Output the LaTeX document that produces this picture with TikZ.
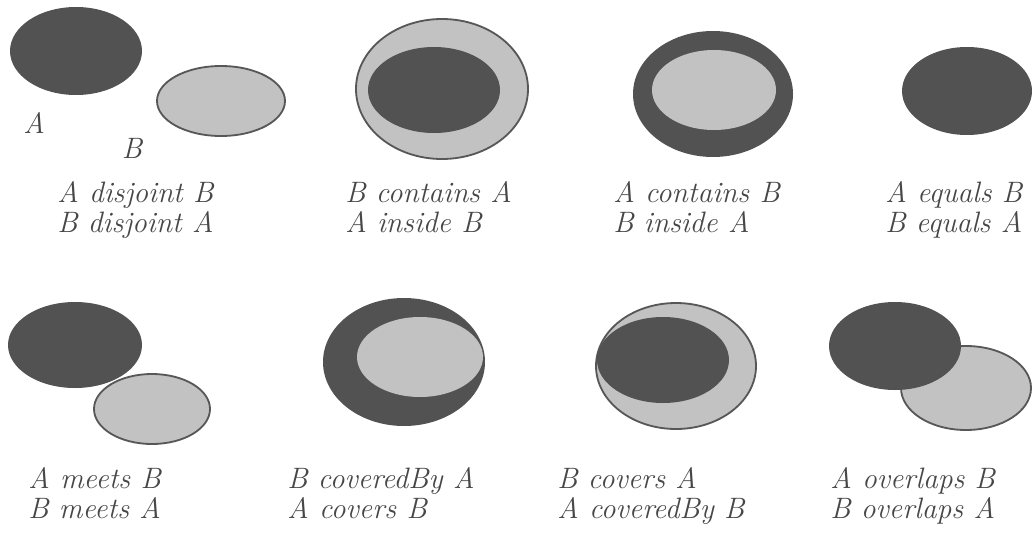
\documentclass[tikz,border=0pt]{standalone}
\usepackage{tikz}
\usetikzlibrary{calc,positioning}
\tikzset{
  regA/.style={fill=black!68},
  regB/.style={fill=black!24,draw=black!66,line width=1.3pt},
  lbl/.style={font=\fontsize{21}{21.3}\selectfont\itshape,text=black!72,align=left,inner sep=0pt,anchor=base west},
  tag/.style={font=\fontsize{21}{21.3}\selectfont\itshape,text=black!72,inner sep=0pt,anchor=base},
}
\begin{document}
\begin{tikzpicture}[x=0.025cm,y=-0.025cm]
  \useasboundingbox (0,0) rectangle (1032,539);
  % top row
  \fill[regA] (76,51) ellipse [x radius=66,y radius=44];
  \filldraw[regB] (221,101) ellipse [x radius=64,y radius=35];
  \node[tag](tA) at (34,133){A}; \node[tag](tB) at (132,158){B};
  \node[lbl](disj) at (57,232){A disjoint B\\B disjoint A};

  \filldraw[regB] (442,89) ellipse [x radius=86,y radius=70];
  \fill[regA] (434,90) ellipse [x radius=66,y radius=43];
  \node[lbl](inB) at (345,232){B contains A\\A inside B};

  \fill[regA] (713,94) ellipse [x radius=80,y radius=63];
  \fill[regB,draw=none] (714,90) ellipse [x radius=62,y radius=40];
  \node[lbl](inA) at (613,232){A contains B\\B inside A};

  \fill[regA] (967,91) ellipse [x radius=65,y radius=44];
  \node[lbl](eq) at (885,232){A equals B\\B equals A};

  % bottom row
  \fill[regA] (75,345) ellipse [x radius=67,y radius=43];
  \filldraw[regB] (152,409) ellipse [x radius=58,y radius=35];
  \node[lbl](meet) at (28,518){A meets B\\B meets A};

  \fill[regA] (404,362) ellipse [x radius=81,y radius=64];
  \fill[regB,draw=none] (420,357) ellipse [x radius=63,y radius=40];
  \node[lbl](cvdA) at (287,518){B coveredBy A\\A covers B};

  \filldraw[regB] (676,366) ellipse [x radius=80,y radius=63];
  \fill[regA] (663,360) ellipse [x radius=66,y radius=43];
  \node[lbl](cvsA) at (557,518){B covers A\\A coveredBy B};

  \filldraw[regB] (966,388) ellipse [x radius=65,y radius=42];
  \fill[regA] (895,346) ellipse [x radius=66,y radius=44];
  \node[lbl](ovl) at (830,518){A overlaps B\\B overlaps A};
\end{tikzpicture}
\end{document}
